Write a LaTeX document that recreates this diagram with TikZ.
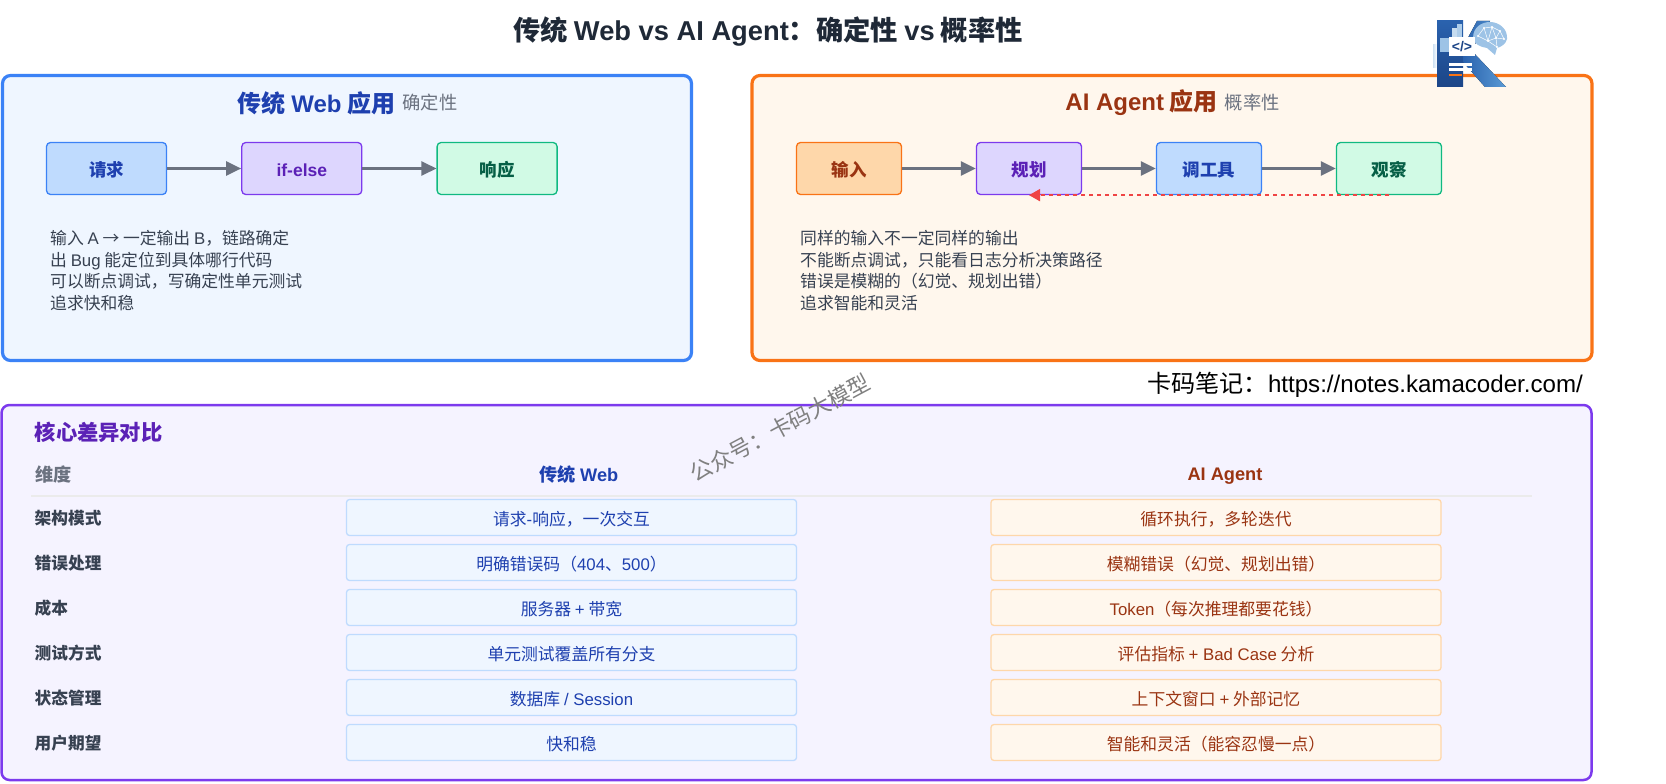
\documentclass[tikz,border=0pt]{standalone}
\usepackage{fontspec}
\setmainfont{Noto Sans CJK SC}
\newfontfamily\lat{Liberation Sans}
\usepackage{xcolor}
\usepackage{tikz}
\usetikzlibrary{arrows.meta, positioning}

\definecolor{blueline}{HTML}{3B82F6}
\definecolor{bluefill}{HTML}{BFDBFE}
\definecolor{bluepale}{HTML}{EFF6FF}
\definecolor{bluetext}{HTML}{1E40AF}
\definecolor{orangeline}{HTML}{F97316}
\definecolor{orangefill}{HTML}{FED7AA}
\definecolor{orangepale}{HTML}{FFF7ED}
\definecolor{orangetext}{HTML}{9A3412}
\definecolor{purpleline}{HTML}{7C3AED}
\definecolor{purplefill}{HTML}{DDD6FE}
\definecolor{purplepale}{HTML}{F5F3FF}
\definecolor{purpletext}{HTML}{5B21B6}
\definecolor{greenline}{HTML}{10B981}
\definecolor{greenfill}{HTML}{D1FAE5}
\definecolor{greentext}{HTML}{065F46}
\definecolor{graytext}{HTML}{6B7280}
\definecolor{darktext}{HTML}{374151}
\definecolor{titletext}{HTML}{1F2937}
\definecolor{redline}{HTML}{EF4444}
\definecolor{logodark}{HTML}{1C4587}
\definecolor{logomid}{HTML}{2A62AE}
\definecolor{logolight}{HTML}{5B9BD5}

\tikzstyle{panel} = [rectangle, rounded corners=8pt, line width=3.2pt, inner sep=0pt]
\tikzstyle{stepbox} = [rectangle, rounded corners=4pt, line width=1.3pt, minimum height=52pt, inner sep=0pt, text height=16pt, text depth=0pt, font=\fontsize{17.5}{21}\selectfont\bfseries]
\tikzstyle{note} = [anchor=north west, align=left, inner sep=0pt, text=darktext, font=\fontsize{16.8}{21.7}\selectfont]
\tikzstyle{cell} = [rectangle, rounded corners=3pt, line width=1.3pt, minimum width=450pt, minimum height=36pt, inner sep=0pt, text height=15.4pt, text depth=0pt, font=\fontsize{16.8}{20}\selectfont]
\tikzstyle{webcell} = [cell, fill=bluepale, draw=bluefill, text=bluetext]
\tikzstyle{agentcell} = [cell, fill=orangepale, draw=orangefill, text=orangetext]
\tikzstyle{rowlabel} = [anchor=west, inner sep=0pt, text=darktext, font=\fontsize{16.7}{20}\selectfont\bfseries]
\tikzstyle{header} = [inner sep=0pt, font=\fontsize{18.2}{22}\selectfont\bfseries]
\tikzstyle{arrow} = [line width=2.4pt, draw=graytext, -{Triangle[length=15pt,width=14pt]}]
\tikzstyle{feedback} = [line width=1.7pt, draw=redline, dash pattern=on 4pt off 4pt, -{Triangle[length=11pt,width=12pt]}]

\begin{document}
\begin{tikzpicture}[x=1pt, y=-1pt, node distance=74pt]
            \useasboundingbox (0,0) rectangle (1666,784);
            \node[inner sep=0pt, text=titletext, font=\fontsize{27.3}{32}\selectfont\bfseries] (title) at (768,32) {传统 {\lat Web vs AI Agent}：确定性 {\lat vs} 概率性};

            % upper panels
            \node[panel, fill=bluepale, draw=blueline, minimum width=689pt, minimum height=285pt] (web) at (347,218) {};
            \node[panel, fill=orangepale, draw=orangeline, minimum width=840pt, minimum height=285pt] (agent) at (1172,218) {};
            \node[inner sep=0pt, text=bluetext, font=\fontsize{24}{28}\selectfont\bfseries] (webtitle) at (316.5,103) {传统 {\lat Web} 应用};
            \node[inner sep=0pt, text=graytext, font=\fontsize{18.3}{22}\selectfont, right=7pt of webtitle] (websub) {确定性};
            \node[inner sep=0pt, text=orangetext, font=\fontsize{24}{28}\selectfont\bfseries] (agenttitle) at (1141.5,103) {{\lat AI Agent} 应用};
            \node[inner sep=0pt, text=graytext, font=\fontsize{18.3}{22}\selectfont, right=7pt of agenttitle] (agentsub) {概率性};

            % web flow
            \node[stepbox, minimum width=120pt, fill=bluefill, draw=blueline, text=bluetext] (req) at (106.5,168.5) {请求};
            \node[stepbox, minimum width=120pt, fill=purplefill, draw=purpleline, text=purpletext, right=of req] (ifelse) {\lat if-else};
            \node[stepbox, minimum width=120pt, fill=greenfill, draw=greenline, text=greentext, right=of ifelse] (resp) {响应};
            \draw[arrow] (req) -- (ifelse);
            \draw[arrow] (ifelse) -- (resp);
            \node[note] (webnote) at (50,230) {输入 {\lat A} → 一定输出 {\lat B}，链路确定\\出 {\lat Bug} 能定位到具体哪行代码\\可以断点调试，写确定性单元测试\\追求快和稳};

            % agent flow
            \node[stepbox, minimum width=105pt, fill=orangefill, draw=orangeline, text=orangetext] (input) at (849,168.5) {输入};
            \node[stepbox, minimum width=105pt, fill=purplefill, draw=purpleline, text=purpletext, right=73.7pt of input] (plan) {规划};
            \node[stepbox, minimum width=105pt, fill=bluefill, draw=blueline, text=bluetext, right=73.7pt of plan] (tool) {调工具};
            \node[stepbox, minimum width=105pt, fill=greenfill, draw=greenline, text=greentext, right=73.7pt of tool] (obs) {观察};
            \draw[arrow] (input) -- (plan);
            \draw[arrow] (plan) -- (tool);
            \draw[arrow] (tool) -- (obs);
            \draw[feedback] (obs.south) -- (plan.south);
            \node[note] (agentnote) at (800,230) {同样的输入不一定同样的输出\\不能断点调试，只能看日志分析决策路径\\错误是模糊的（幻觉、规划出错）\\追求智能和灵活};

            \node[inner sep=0pt, anchor=east, text=black, font=\fontsize{24.1}{28}\selectfont] (site) at (1583,385) {卡码笔记：{\lat https://notes.kamacoder.com/}};

            % comparison table
            \node[panel, line width=2.5pt, fill=purplepale, draw=purpleline, minimum width=1590pt, minimum height=375pt] (table) at (796.5,592.5) {};
            \node[anchor=west, inner sep=0pt, text=purpletext, font=\fontsize{21.3}{25}\selectfont\bfseries] (tabletitle) at (34.5,432) {核心差异对比};
            \node[header, anchor=west, text=graytext] (dim) at (35,475) {维度};
            \node[header, text=bluetext] (webhead) at (579,475) {传统 {\lat Web}};
            \node[header, text=orangetext] (agenthead) at (1225,476.5) {\lat AI Agent};
            \coordinate (rulel) at (31,496);
            \coordinate (ruler) at (1532,496);
            \draw[line width=1.3pt, draw=black!8] (rulel) -- (ruler);

            \node[rowlabel] (row1) at (34.5,518.5) {架构模式};
            \node[webcell] (web1) at (571.5,517.5) {请求{\lat -}响应，一次交互};
            \node[agentcell] (agent1) at (1216,517.5) {循环执行，多轮迭代};
            \node[rowlabel] (row2) at (34.5,563.5) {错误处理};
            \node[webcell, below=7.7pt of web1] (web2) {明确错误码（{\lat 404}、{\lat 500}）};
            \node[agentcell, below=7.7pt of agent1] (agent2) {模糊错误（幻觉、规划出错）};
            \node[rowlabel] (row3) at (34.5,608.5) {成本};
            \node[webcell, below=7.7pt of web2] (web3) {服务器 {\lat +} 带宽};
            \node[agentcell, below=7.7pt of agent2] (agent3) {{\lat Token}（每次推理都要花钱）};
            \node[rowlabel] (row4) at (34.5,653.5) {测试方式};
            \node[webcell, below=7.7pt of web3] (web4) {单元测试覆盖所有分支};
            \node[agentcell, below=7.7pt of agent3] (agent4) {评估指标 {\lat + Bad Case} 分析};
            \node[rowlabel] (row5) at (34.5,698.5) {状态管理};
            \node[webcell, below=7.7pt of web4] (web5) {数据库 {\lat / Session}};
            \node[agentcell, below=7.7pt of agent4] (agent5) {上下文窗口 {\lat +} 外部记忆};
            \node[rowlabel] (row6) at (34.5,743.5) {用户期望};
            \node[webcell, below=7.7pt of web5] (web6) {快和稳};
            \node[agentcell, below=7.7pt of agent5] (agent6) {智能和灵活（能容忍慢一点）};

            \node[inner sep=0pt, rotate=28, text=black!50, font=\fontsize{22.3}{26}\selectfont] (mark) at (780,428) {公众号：卡码大模型};

            % logo
            \fill[left color=logolight!30, right color=white, shading angle=90] (1433,45) rectangle (1437,68);
            \fill[top color=logomid, bottom color=logodark] (1437,21) rectangle (1463,87);
            \fill[logolight!60] (1440,38) rectangle (1449,52);
            \fill[logolight!35] (1452,28) rectangle (1457,37);
            \fill[logolight!50] (1457,24) rectangle (1462,37);
            \fill[left color=logomid, right color=logolight] (1463,47) -- (1477,21) -- (1490,21) -- (1471,50) -- (1506,87) -- (1485,87) -- (1463,62) -- cycle;
            \fill[logolight!60] (1473,38) .. controls (1473,27) and (1482,22) .. (1490,22) .. controls (1500,22) and (1508,30) .. (1507,39) .. controls (1506,44) and (1501,47) .. (1497,48) -- (1495,55) -- (1487,48) .. controls (1480,47) and (1474,44) .. (1473,38) -- cycle;
            \draw[white, line width=0.5pt] (1478,36) -- (1484,28) -- (1492,27) -- (1500,31) -- (1504,39) -- (1496,38) -- (1488,41) -- (1478,36) (1484,28) -- (1488,41) -- (1492,27) -- (1496,38) -- (1500,31) (1496,38) -- (1497,47) -- (1488,41);
            \fill[white] (1478,36) circle (1.1pt) (1484,28) circle (1.1pt) (1492,27) circle (1.1pt) (1500,31) circle (1.1pt) (1504,39) circle (1.1pt) (1496,38) circle (1.1pt) (1488,41) circle (1.1pt) (1497,47) circle (1.1pt);
            \fill[white] (1449,37) rectangle (1475,56);
            \node[inner sep=0pt, text=logodark, font=\fontsize{14}{16}\selectfont\bfseries\lat] (code) at (1462,46.5) {</>};
            \fill[white] (1449,63) rectangle (1472,66);
            \fill[white] (1449,68) rectangle (1472,71);
            \fill[orangeline] (1449,74) rectangle (1462,76);
        \end{tikzpicture}
\end{document}
